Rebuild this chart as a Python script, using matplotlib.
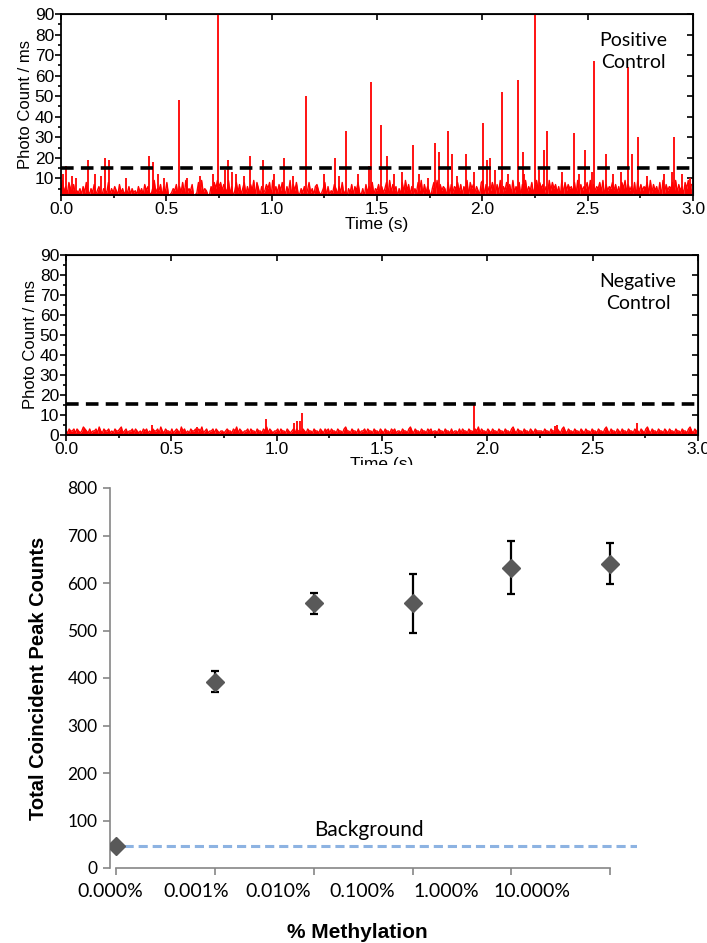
import matplotlib.pyplot as plt
import numpy as np
from matplotlib.patches import Rectangle

# ---- single-molecule photon traces (7.5 ms bins) ----
pos_base = ("49362853724352638425372463254382536427352436253426"
            "35274632593547163822354726382935471238293542263859"
            "68475392614837258263749185263475819263748526391748"
            "32536248352674235816243752638241537264832517364825"
            "47263582937461528394726153849273641582937465182736"
            "58372649185736428917364852739164857293648175936482"
            "69485736294857361928475638291746583927465839174658"
            "47362859374628193746582937462819374658293746285937")
pos_peak_t = [0.01, 0.026, 0.05, 0.07, 0.128, 0.16, 0.19, 0.21, 0.229, 0.31,
              0.42, 0.438, 0.46, 0.49, 0.562, 0.60, 0.66, 0.72, 0.746, 0.78,
              0.795, 0.81, 0.83, 0.87, 0.897, 0.96, 1.01, 1.058, 1.10, 1.162,
              1.25, 1.30, 1.32, 1.352, 1.41, 1.464, 1.472, 1.517, 1.549, 1.58,
              1.62, 1.671, 1.70, 1.74, 1.776, 1.795, 1.835, 1.857, 1.88, 1.921,
              1.96, 2.002, 2.024, 2.036, 2.06, 2.092, 2.12, 2.167, 2.194, 2.20,
              2.25, 2.27, 2.295, 2.306, 2.38, 2.434, 2.46, 2.485, 2.52, 2.532,
              2.585, 2.62, 2.66, 2.69, 2.712, 2.741, 2.78, 2.86, 2.90, 2.912,
              2.95, 2.985]
pos_peak_h = [12, 16, 11, 10, 19, 12, 11, 20, 19, 10,
              21, 18, 12, 10, 48, 10, 11, 12, 95, 14,
              19, 13, 12, 11, 21, 19, 12, 20, 11, 50,
              12, 20, 11, 33, 12, 16, 57, 36, 21, 12,
              13, 26, 12, 10, 27, 23, 33, 22, 11, 22,
              13, 37, 19, 20, 14, 52, 12, 58, 23, 12,
              95, 14, 24, 33, 13, 32, 12, 24, 13, 67,
              22, 12, 13, 64, 22, 30, 11, 12, 13, 30,
              12, 10]
pos_threshold = 15

neg_base = ("21322313212432131223142132231213223412312231321213"
            "23121322314213221312321423121322313241231223132122"
            "12322132413212231322132213241321223132213212313221"
            "32132213221321323132213221342213221312231322132213"
            "21322132312213221342132213221323122132213221312213"
            "13221322132413221321322132213221342132213221321322"
            "22132213221321342132213221321322132213221342132213"
            "21322132213221321342132213221321322132213221342132")
neg_peak_t = [0.41, 0.62, 0.95, 1.08, 1.095, 1.11, 1.12, 1.935, 2.32, 2.33, 2.71]
neg_peak_h = [5, 4, 8, 6, 7, 7, 11, 16, 4.5, 5, 6]
neg_threshold = 15.5

# ---- coincident peak counts vs methylation level ----
methylation = ['0.000%', '0.001%', '0.010%', '0.100%', '1.000%', '10.000%']
peak_counts = [46, 392, 557, 557, 632, 641]
peak_err = [0, 22, 23, 62, 56, 43]
background = 46

W, H = 707, 943
fig = plt.figure(figsize=(W / 100, H / 100), dpi=100)

arial = ['Liberation Sans', 'DejaVu Sans']
calibri = ['Lato', 'DejaVu Sans']


def trace(ax, base, pk_t, pk_h, thr, y0, ylabels):
    vals = np.array([int(c) for c in base], dtype=float)
    t = np.arange(len(vals)) * 3.0 / len(vals)
    ax.fill_between(t, y0 - 1, vals, color='#ff0000', lw=0)
    ax.plot(t, vals, color='#ff0000', lw=1.0)
    ax.vlines(pk_t, y0 - 1, pk_h, color='#ff0000', lw=1.3)
    ax.axhline(thr, color='black', lw=2.6, ls=(0, (3.5, 2)))
    ax.set_xlim(0, 3.0)
    ax.set_ylim(y0, 90)
    ax.set_xticks(np.arange(0, 3.01, 0.5))
    ax.set_xticks(np.arange(0, 3.01, 0.25), minor=True)
    ax.set_yticks(ylabels)
    ax.set_yticks(np.arange(5, 90, 5), minor=True)
    ax.set_xticklabels(['%.1f' % v for v in np.arange(0, 3.01, 0.5)],
                       family=arial, fontsize=12.5)
    ax.set_yticklabels([str(v) for v in ylabels], family=arial, fontsize=12.5)
    ax.tick_params(which='both', direction='out', width=1.2, pad=1)
    ax.tick_params(which='major', length=4)
    ax.tick_params(which='minor', length=2.5)
    for s in ax.spines.values():
        s.set_linewidth(1.3)
    ax.set_ylabel('Photo Count / ms', family=arial, fontsize=12, labelpad=1)
    ax.set_xlabel('Time (s)', family=arial, fontsize=12.5, labelpad=0)
    # ticks on top and right axes point inward
    sec = ax.secondary_xaxis('top')
    sec.set_xticks(np.arange(0, 3.01, 0.5))
    sec.tick_params(direction='in', length=4, width=1.2, labeltop=False)
    sec2 = ax.secondary_yaxis('right')
    sec2.set_yticks(np.arange(10, 91, 10))
    sec2.tick_params(direction='in', length=4, width=1.2, labelright=False)


ax1 = fig.add_axes([61 / W, (H - 195) / H, 632 / W, 181 / H])
trace(ax1, pos_base, pos_peak_t, pos_peak_h, pos_threshold, 1.9,
      list(range(10, 91, 10)))
ax1.text(0.905, 0.90, 'Positive\nControl', transform=ax1.transAxes,
         ha='center', va='top', family=calibri, fontsize=14, linespacing=1.35)

ax2 = fig.add_axes([66 / W, (H - 435) / H, 632 / W, 180 / H])
trace(ax2, neg_base, neg_peak_t, neg_peak_h, neg_threshold, 0,
      list(range(0, 91, 10)))
ax2.text(0.905, 0.90, 'Negative\nControl', transform=ax2.transAxes,
         ha='center', va='top', family=calibri, fontsize=14, linespacing=1.35)

# the lower chart sits over the bottom of the negative-control x label
fig.add_artist(Rectangle((0, 0), 1, (H - 465) / H, transform=fig.transFigure,
                         facecolor='white', edgecolor='none', zorder=1))

ax3 = fig.add_axes([110 / W, (H - 868) / H, 527 / W, 380 / H])
ax3.set_zorder(2)
x = np.arange(len(methylation))
ax3.axhline(background, color='#8db3e2', lw=2.2, ls=(0, (3, 1.6)), zorder=1)
ax3.errorbar(x, peak_counts, yerr=peak_err, fmt='D', color='#595959',
             ms=9, ecolor='black', elinewidth=1.6, capsize=3, capthick=1.6,
             zorder=3)
ax3.text(2.56, 80, 'Background', family=calibri, fontsize=15,
         ha='center', va='center')
ax3.set_xlim(0, 5.27)
ax3.set_ylim(0, 800)
ax3.set_yticks(np.arange(0, 801, 100))
ax3.set_yticklabels([str(v) for v in range(0, 801, 100)], family=calibri,
                    fontsize=12.5)
ax3.set_xticks(x)
ax3.set_xticklabels([])
ax3.set_xticks(np.array([-0.06, 0.81, 1.64, 2.49, 3.34, 4.21]), minor=True)
ax3.set_xticklabels(methylation, minor=True, family=calibri, fontsize=14)
ax3.tick_params(axis='x', which='minor', length=0, pad=11)
ax3.tick_params(which='major', color='#868686', length=5, width=1.2)
ax3.tick_params(axis='y', pad=4)
ax3.spines['top'].set_visible(False)
ax3.spines['right'].set_visible(False)
ax3.spines['left'].set_color('#868686')
ax3.spines['bottom'].set_color('#868686')
ax3.spines['left'].set_linewidth(1.2)
ax3.spines['bottom'].set_linewidth(1.2)
ax3.spines['bottom'].set_bounds(0, 5)
ax3.set_ylabel('Total Coincident Peak Counts', family=arial,
               fontweight='bold', fontsize=14.5, labelpad=14)
ax3.set_xlabel('% Methylation',
               family=['Liberation Sans Narrow', 'Liberation Sans'],
               fontweight='bold', fontsize=15)
ax3.xaxis.set_label_coords(0.47, -0.145)
for lab in ax3.get_xticklabels(minor=True):
    lab.set_clip_on(False)

fig.savefig('out.png', dpi=100)
